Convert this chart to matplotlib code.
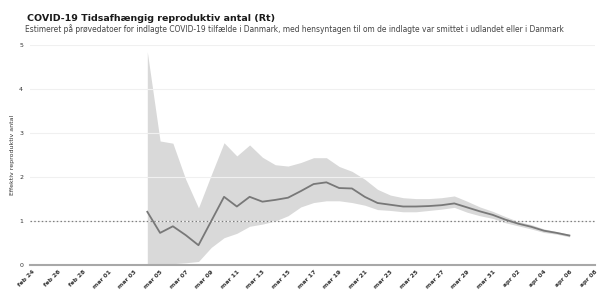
import matplotlib
matplotlib.use("Agg")
import matplotlib.pyplot as plt
import numpy as np
import pandas as pd

start_date = "2020-03-04"
rt_mean = [1.21, 0.73, 0.88, 0.68, 0.45, 1.00, 1.55, 1.33, 1.55, 1.44,
           1.48, 1.53, 1.68, 1.84, 1.88, 1.75, 1.74, 1.55, 1.41, 1.37,
           1.33, 1.33, 1.34, 1.36, 1.40, 1.31, 1.22, 1.14, 1.03, 0.94,
           0.87, 0.78, 0.73, 0.67]
rt_upper = [4.85, 2.82, 2.77, 1.95, 1.30, 2.05, 2.78, 2.48, 2.73, 2.45,
            2.28, 2.25, 2.33, 2.44, 2.44, 2.24, 2.13, 1.95, 1.72, 1.59,
            1.53, 1.51, 1.51, 1.53, 1.57, 1.45, 1.32, 1.22, 1.10, 0.99,
            0.92, 0.82, 0.76, 0.70]
rt_lower = [0.00, 0.02, 0.03, 0.05, 0.08, 0.40, 0.62, 0.72, 0.88, 0.93,
            1.00, 1.12, 1.32, 1.42, 1.46, 1.46, 1.42, 1.36, 1.26, 1.24,
            1.21, 1.21, 1.24, 1.27, 1.31, 1.20, 1.12, 1.06, 0.96, 0.89,
            0.82, 0.74, 0.70, 0.64]
tick_dates = pd.date_range("2020-02-24", "2020-04-08", freq="2D")
tick_labels = [f"{['jan','feb','mar','apr'][d.month-1]} {d.day:02d}" for d in tick_dates]
y_ticks = [0, 1, 2, 3, 4, 5]

title = "COVID-19 Tidsafhængig reproduktiv antal (Rt)"
subtitle = ("Estimeret på prøvedatoer for indlagte COVID-19 tilfælde i Danmark, med hensyntagen til "
            "om de indlagte var smittet i udlandet eller i Danmark")
ylabel = "Effektiv reproduktiv antal"

dates = pd.date_range(start_date, periods=len(rt_mean), freq="D")

fig = plt.figure(figsize=(6.01, 2.93), dpi=100)
ax = fig.add_axes([0.05, 0.0956, 0.94, 0.7504])

ax.fill_between(dates, rt_lower, rt_upper, color="#d9d9d9", lw=0, zorder=1)
ax.plot(dates, rt_mean, color="#787878", lw=1.3, zorder=3)
ax.axhline(1, color="#7f7f7f", lw=0.9, ls=(0, (1.2, 1.8)), zorder=2)

ax.set_xlim(pd.Timestamp("2020-02-23 20:00"), pd.Timestamp("2020-04-07 22:00"))
ax.set_ylim(0, 5)
ax.set_yticks(y_ticks)
ax.set_yticklabels([str(v) for v in y_ticks], fontsize=4.5, color="#333333")
ax.set_xticks(tick_dates)
ax.set_xticklabels(tick_labels, rotation=45, ha="right", va="top",
                   rotation_mode="anchor", fontsize=4.3, fontweight="bold", color="#333333")
ax.tick_params(axis="both", length=0, pad=3)
ax.tick_params(axis="y", pad=5)
ax.grid(axis="y", color="#f0f0f0", lw=0.8, zorder=0)
for s in ["left", "right", "top"]:
    ax.spines[s].set_visible(False)
ax.spines["bottom"].set_color("#a8a8a8")
ax.spines["bottom"].set_linewidth(1.5)
ax.set_ylabel(ylabel, fontsize=4.5, color="#333333", labelpad=3)

fig.text(0.045, 0.93, title, fontsize=6.8, fontweight="bold", family="DejaVu Sans",
         color="#1a1a1a", va="baseline")
fig.text(0.042, 0.89, subtitle, fontsize=5.45, family="DejaVu Sans",
         color="#444444", va="baseline")

fig.savefig("out.png", dpi=100)
